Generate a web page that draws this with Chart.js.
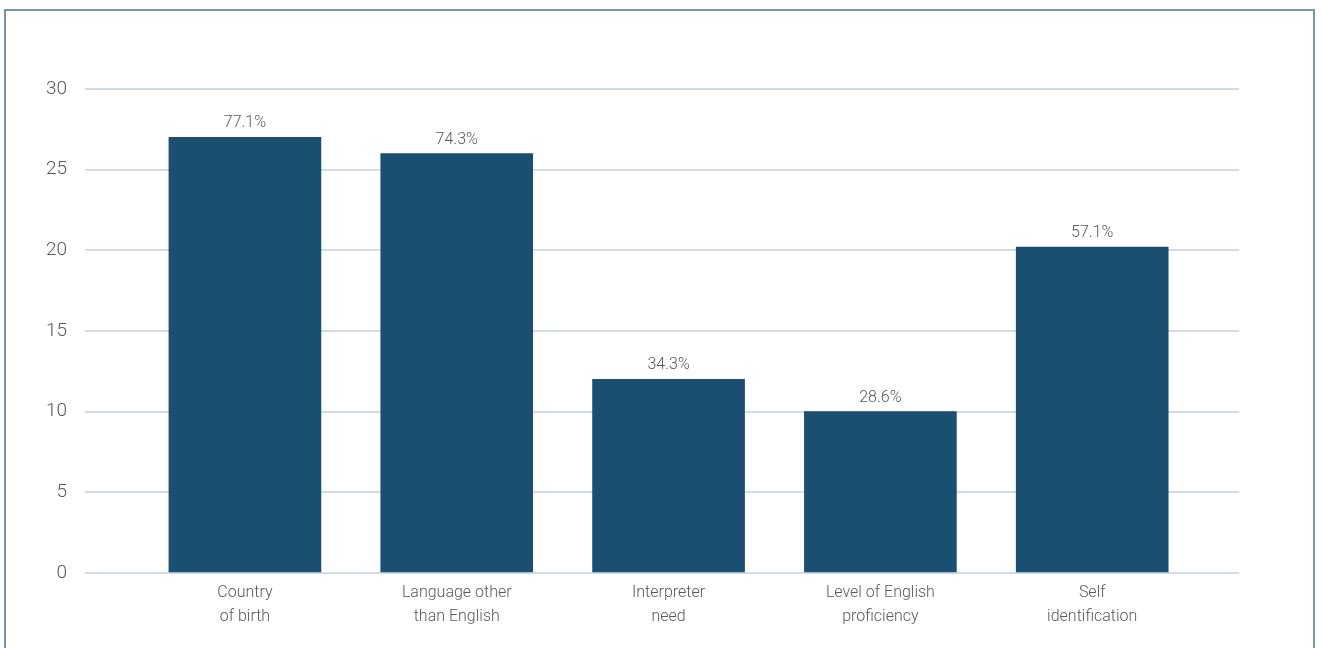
<!DOCTYPE html>
<html>
<head>
<meta charset="utf-8">
<script src="https://cdn.jsdelivr.net/npm/chart.js@4.4.1/dist/chart.umd.min.js"></script>
<style>
  html, body { margin: 0; padding: 0; background: #fff; }
  #wrap { position: relative; width: 1322px; height: 648px; overflow: hidden; }
  #frame { position: absolute; left: 4px; top: 9px; width: 1311px; height: 700px; border: 2px solid #7493ae; box-sizing: border-box; }
  canvas { position: absolute; left: 0; top: 0; }
</style>
</head>
<body>
<div id="wrap">
  <div id="frame"></div>
  <canvas id="chart" width="1322" height="648"></canvas>
</div>
<script>
'use strict';

// ── Data ──────────────────────────────────────────────────────
const categories = [
  ['Country', 'of birth'],
  ['Language other', 'than English'],
  ['Interpreter', 'need'],
  ['Level of English', 'proficiency'],
  ['Self', 'identification']
];
const counts      = [27, 26, 12, 10, 20.2];
const pctLabels   = ['77.1%', '74.3%', '34.3%', '28.6%', '57.1%'];
const yTicks      = [0, 5, 10, 15, 20, 25, 30];

const BAR_COLOR  = '#1a4f72';
const GRID_COLOR = '#d3dce6';
const TEXT_COLOR = '#595959';
const FONT       = 'Roboto, "Open Sans", sans-serif';

// ── Value labels above bars ───────────────────────────────────
const valueLabels = {
  id: 'valueLabels',
  afterDatasetsDraw(chart) {
    const ctx = chart.ctx;
    const meta = chart.getDatasetMeta(0);
    ctx.save();
    ctx.font = `300 16px ${FONT}`;
    ctx.fillStyle = TEXT_COLOR;
    ctx.textAlign = 'center';
    ctx.textBaseline = 'bottom';
    meta.data.forEach((bar, i) => {
      ctx.fillText(pctLabels[i], bar.x, bar.y - 6);
    });
    ctx.restore();
  }
};

new Chart(document.getElementById('chart'), {
  type: 'bar',
  data: {
    datasets: [{
      data: counts.map((v, i) => ({ x: i, y: v })),
      backgroundColor: BAR_COLOR,
      barThickness: 152
    }]
  },
  options: {
    responsive: false,
    animation: false,
    layout: { padding: { top: 89, right: 83, left: 0, bottom: 0 } },
    plugins: { legend: { display: false }, tooltip: { enabled: false } },
    scales: {
      x: {
        type: 'linear',
        offset: false,
        min: -0.755,
        max: 4.693,
        grid: { display: false, drawTicks: false, offset: false },
        border: { display: false },
        afterBuildTicks: scale => { scale.ticks = categories.map((c, i) => ({ value: i })); },
        afterFit: scale => { scale.height = 75; },
        ticks: {
          autoSkip: false,
          maxRotation: 0,
          padding: 8,
          color: TEXT_COLOR,
          font: { family: FONT, size: 16, weight: 300, lineHeight: 1.5 },
          callback: v => categories[v] || ''
        }
      },
      y: {
        min: 0,
        max: 30,
        afterBuildTicks: scale => { scale.ticks = yTicks.map(v => ({ value: v })); },
        afterFit: scale => { scale.width = 85; },
        grid: { color: GRID_COLOR, lineWidth: 2, drawTicks: false },
        border: { display: false },
        ticks: {
          padding: 18,
          color: TEXT_COLOR,
          font: { family: FONT, size: 19, weight: 300 }
        }
      }
    }
  },
  plugins: [valueLabels]
});
</script>
</body>
</html>
